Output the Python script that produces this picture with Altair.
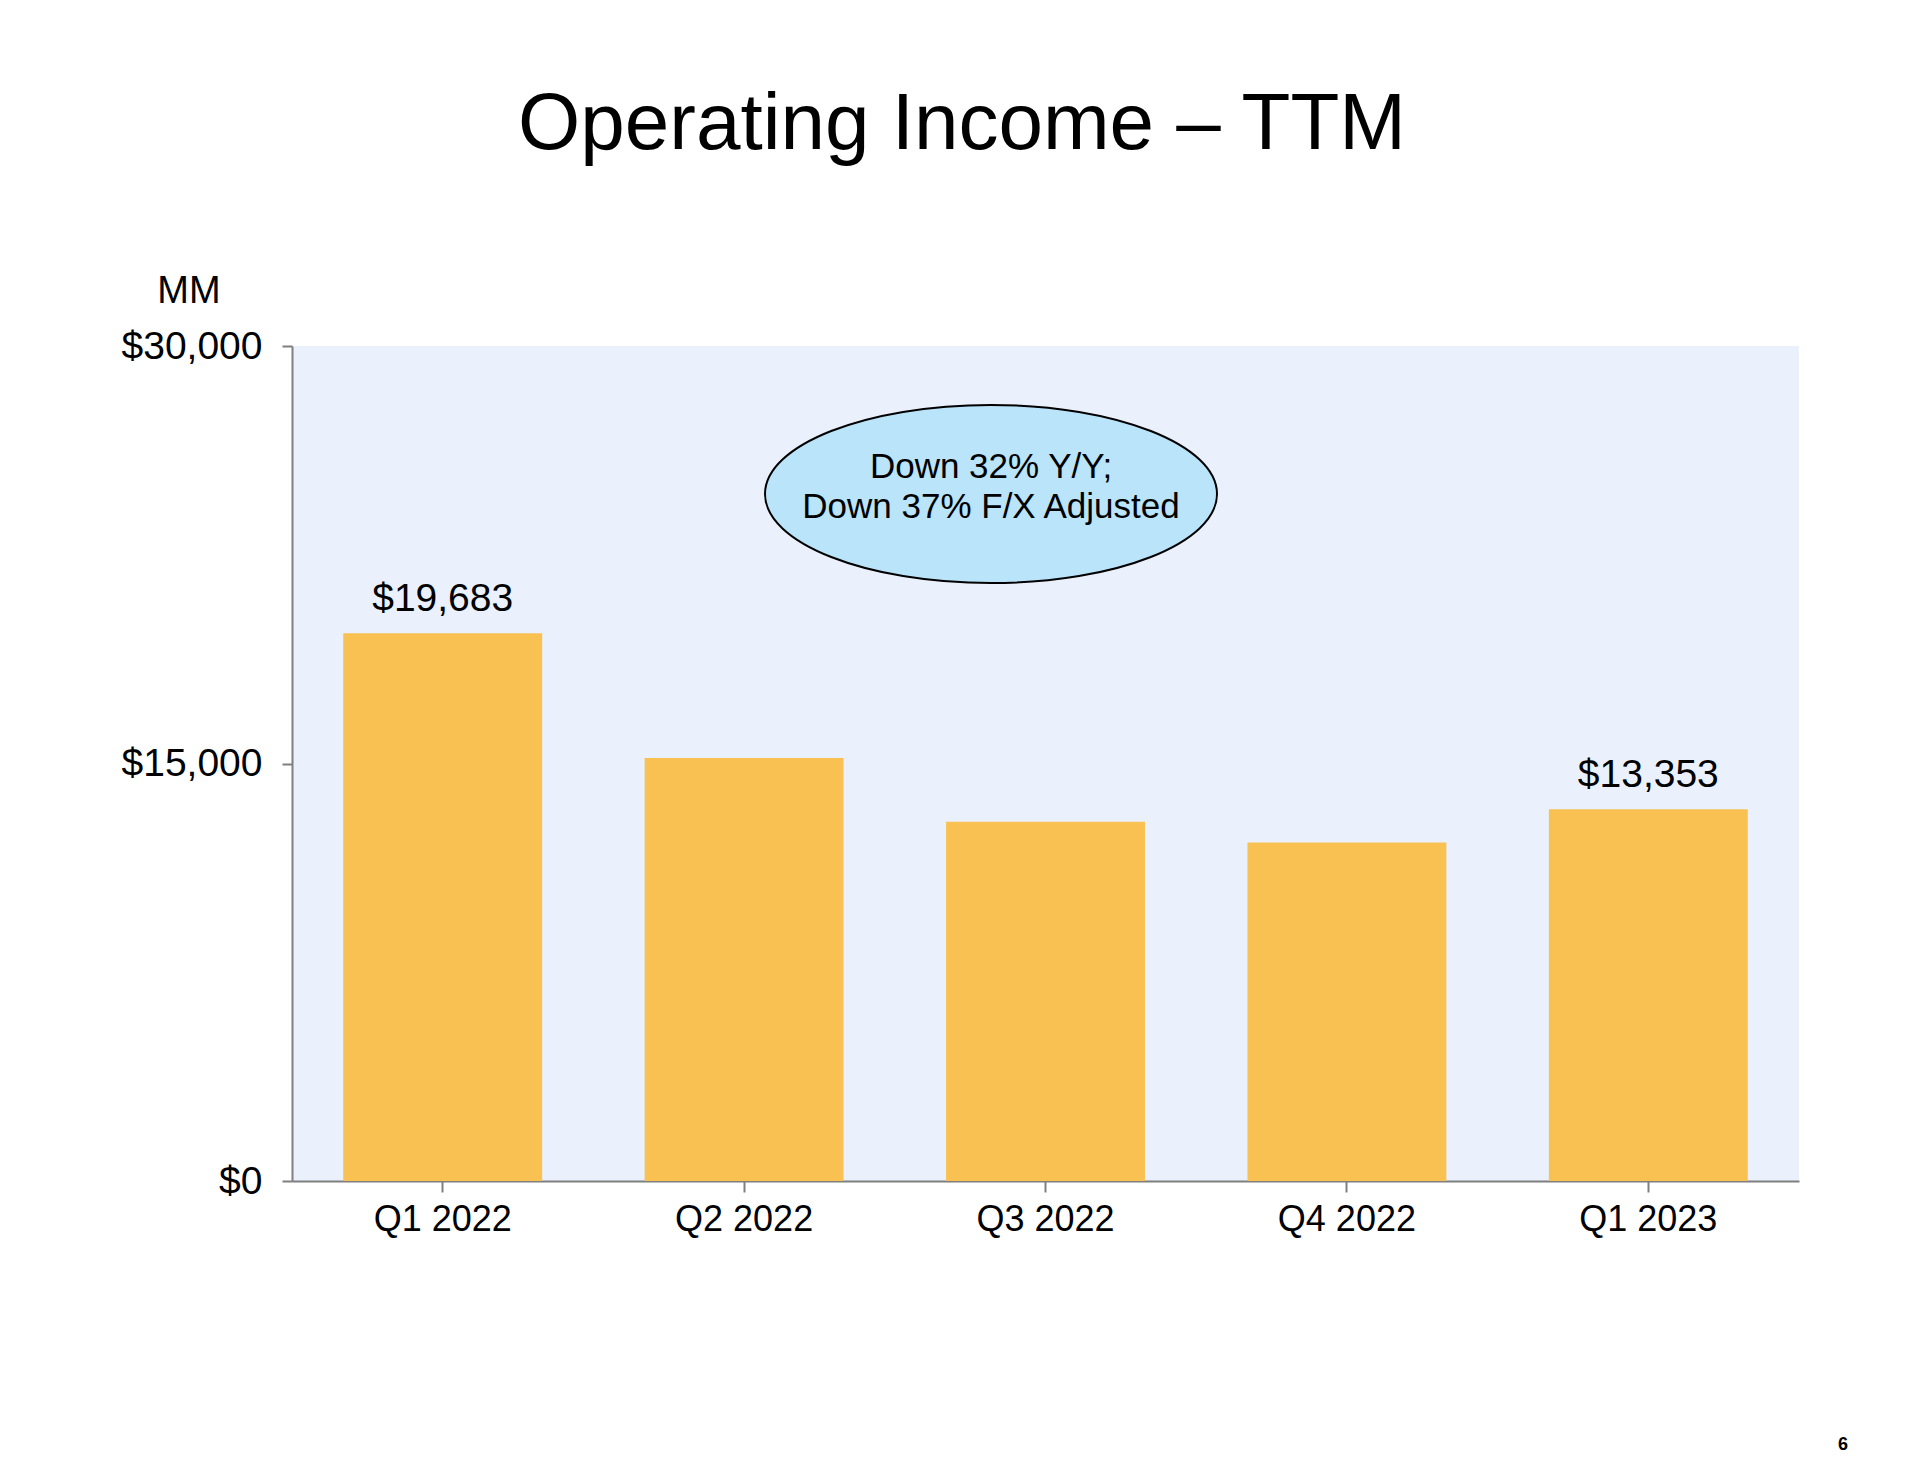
import altair as alt
import pandas as pd

# ---- data ----
quarters = ["Q1 2022", "Q2 2022", "Q3 2022", "Q4 2022", "Q1 2023"]
op_income_ttm = [19683, 15200, 12910, 12160, 13353]
show_label = [True, False, False, False, True]
y_ticks = [0, 15000, 30000]
title_text = "Operating Income \u2013 TTM"
unit_text = "MM"
callout_lines = ["Down 32% Y/Y;", "Down 37% F/X Adjusted"]
page_number = "6"

FONT = "Liberation Sans"
BAR = "#F9C151"
PLOT_BG = "#EAF1FD"
AXIS_GRAY = "#7F7F7F"

df = pd.DataFrame({"quarter": quarters, "value": op_income_ttm, "show": show_label})

W, H = 1507, 835

x_enc = alt.X(
    "quarter:N",
    sort=quarters,
    title=None,
    scale=alt.Scale(paddingInner=0.34, paddingOuter=0.17),
    axis=alt.Axis(
        labelAngle=0, labelFontSize=36, labelFont=FONT, labelColor="black",
        tickSize=11, tickColor=AXIS_GRAY, tickWidth=2,
        domainColor=AXIS_GRAY, domainWidth=2, labelPadding=10,
    ),
)
y_enc = alt.Y(
    "value:Q",
    title=None,
    scale=alt.Scale(domain=[0, 30000], nice=False),
    axis=alt.Axis(
        values=y_ticks, format="$,.0f", grid=False,
        labelFontSize=39, labelFont=FONT, labelColor="black",
        tickSize=10, tickColor=AXIS_GRAY, tickWidth=2,
        domainColor=AXIS_GRAY, domainWidth=2, labelPadding=20,
    ),
)

base = alt.Chart(df)

bars = base.mark_bar(color=BAR).encode(x=x_enc, y=y_enc)

labels = base.transform_filter("datum.show").mark_text(
    font=FONT, fontSize=39, color="black", baseline="alphabetic", dy=-22
).encode(
    x=alt.X("quarter:N", sort=quarters),
    y=alt.Y("value:Q"),
    text=alt.Text("value:Q", format="$,.0f"),
)

ann = pd.DataFrame({"k": [0]})
abase = alt.Chart(ann)

title = abase.mark_text(
    text=title_text, font=FONT, fontSize=80, color="black",
    align="center", baseline="alphabetic",
).encode(x=alt.value(670), y=alt.value(-197))

unit = abase.mark_text(
    text=unit_text, font=FONT, fontSize=38, color="black",
    align="center", baseline="alphabetic",
).encode(x=alt.value(-103), y=alt.value(-43))

ellipse_path = "M -1 0 A 1 0.394 0 1 0 1 0 A 1 0.394 0 1 0 -1 0 Z"
ellipse = abase.mark_point(
    shape=ellipse_path, filled=True, fill="#BAE4F9", stroke="black",
    strokeWidth=2, opacity=1, fillOpacity=1, size=452 * 452,
).encode(x=alt.value(699), y=alt.value(148))

callout = abase.mark_text(
    text=callout_lines, font=FONT, fontSize=35, color="black",
    align="center", baseline="alphabetic", lineHeight=40,
).encode(x=alt.value(699), y=alt.value(132))

pnum = abase.mark_text(
    text=page_number, font=FONT, fontSize=18, fontWeight="bold", color="black",
    align="center", baseline="alphabetic",
).encode(x=alt.value(1551), y=alt.value(1104))

chart = alt.layer(bars, labels, ellipse, callout, title, unit, pnum).properties(
    width=W, height=H,
    autosize=alt.AutoSizeParams(type="none"),
    padding={"left": 284, "top": 338, "right": 113, "bottom": 278},
    background="white",
).configure_view(fill=PLOT_BG, stroke=None)

chart.save("out.html", embed_options={"renderer": "svg", "actions": False})
